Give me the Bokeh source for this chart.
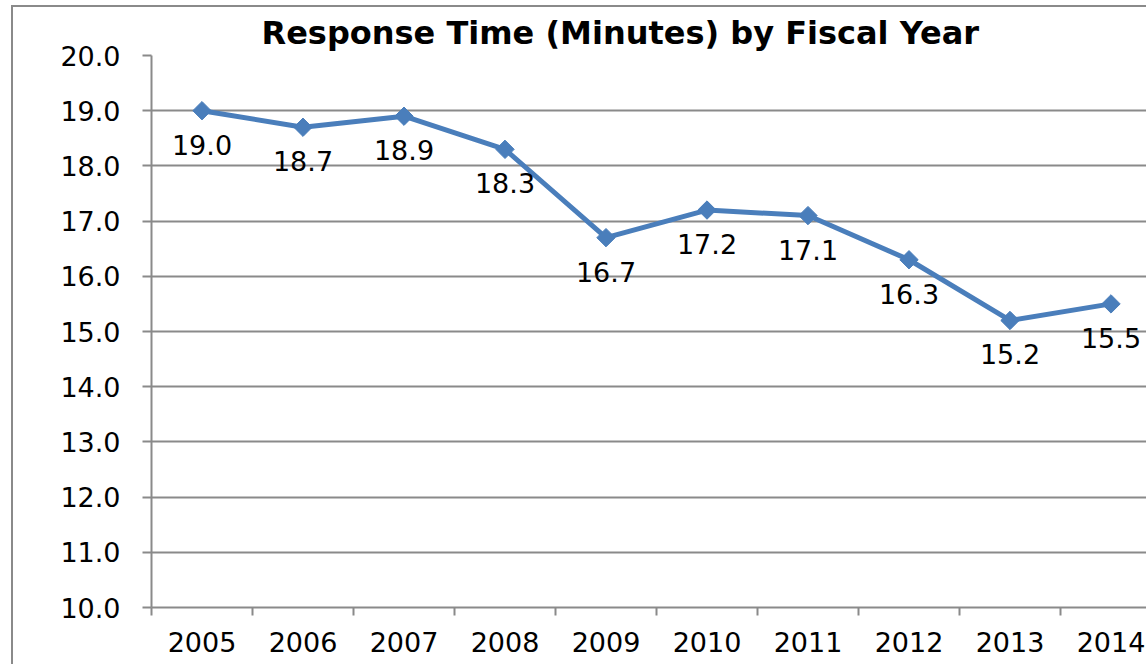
import math
from bokeh.plotting import figure
from bokeh.models import FixedTicker, Range1d, ColumnDataSource, Title
from bokeh.core.properties import value
from bokeh.embed import file_html
from bokeh.resources import INLINE

# ---- data ----
years = ["2005", "2006", "2007", "2008", "2009", "2010", "2011", "2012", "2013", "2014"]
response_minutes = [19.0, 18.7, 18.9, 18.3, 16.7, 17.2, 17.1, 16.3, 15.2, 15.5]
y_ticks = [10, 11, 12, 13, 14, 15, 16, 17, 18, 19, 20]
y_tick_labels = ["10.0", "11.0", "12.0", "13.0", "14.0", "15.0", "16.0", "17.0", "18.0", "19.0", "20.0"]
title_text = "Response Time (Minutes) by Fiscal Year"

FONT = "DejaVu Sans"
GRAY = "#8a8a8a"
BLUE = "#4a7ebb"

xs = list(range(len(years)))
labels = ["%.1f" % v for v in response_minutes]
src = ColumnDataSource(dict(x=xs, y=response_minutes, label=labels))

W, H = 1135, 659
frame_w = W - 138
px_per_cat = 101.0

p = figure(width=W, height=H, output_backend="svg", toolbar_location=None,
           x_range=Range1d(-0.5, -0.5 + frame_w / px_per_cat),
           y_range=Range1d(10, 20),
           min_border_left=138, min_border_right=0, min_border_top=48, min_border_bottom=59,
           margin=(5, 0, 0, 11))
p.styles = {"border-left": "2px solid " + GRAY, "border-top": "2px solid " + GRAY}
p.outline_line_color = None
p.background_fill_color = "white"
p.border_fill_color = "white"

t = Title(text=title_text, align="left", offset=110, text_font=FONT, text_font_size="32px",
          text_font_style="bold", text_color="black", standoff=8)
p.add_layout(t, "above")

# y axis
p.yaxis.ticker = FixedTicker(ticks=y_ticks)
p.yaxis.major_label_overrides = {v: s for v, s in zip(y_ticks, y_tick_labels)}
p.yaxis.major_label_text_font = FONT
p.yaxis.major_label_text_font_size = "27px"
p.yaxis.major_label_text_color = "black"
p.yaxis.major_label_standoff = 22
p.yaxis.axis_line_color = GRAY
p.yaxis.axis_line_width = 2
p.yaxis.major_tick_line_color = GRAY
p.yaxis.major_tick_line_width = 2
p.yaxis.major_tick_out = 9
p.yaxis.major_tick_in = 0
p.yaxis.minor_tick_line_color = None

# x axis
p.xaxis.ticker = FixedTicker(ticks=xs, minor_ticks=[x - 0.5 for x in xs])
p.xaxis.major_label_overrides = {x: y for x, y in zip(xs, years)}
p.xaxis.major_label_text_font = FONT
p.xaxis.major_label_text_font_size = "27px"
p.xaxis.major_label_text_color = "black"
p.xaxis.major_label_standoff = 16
p.xaxis.axis_line_color = GRAY
p.xaxis.axis_line_width = 2
p.xaxis.major_tick_line_color = None
p.xaxis.major_tick_out = 0
p.xaxis.major_tick_in = 0
p.xaxis.minor_tick_line_color = GRAY
p.xaxis.minor_tick_line_width = 2
p.xaxis.minor_tick_out = 8
p.xaxis.minor_tick_in = 0

p.xgrid.grid_line_color = None
p.ygrid.grid_line_color = GRAY
p.ygrid.grid_line_width = 2

p.line("x", "y", source=src, line_color=BLUE, line_width=5)
p.scatter("x", "y", source=src, marker="square", size=13, angle=math.pi / 4,
          fill_color=BLUE, line_color=BLUE)
p.text("x", "y", text="label", source=src, text_align="center", text_baseline="top",
       y_offset=24, text_font=value(FONT), text_font_size="27px", text_color="black")

open("out.html", "w").write(file_html(p, INLINE))
